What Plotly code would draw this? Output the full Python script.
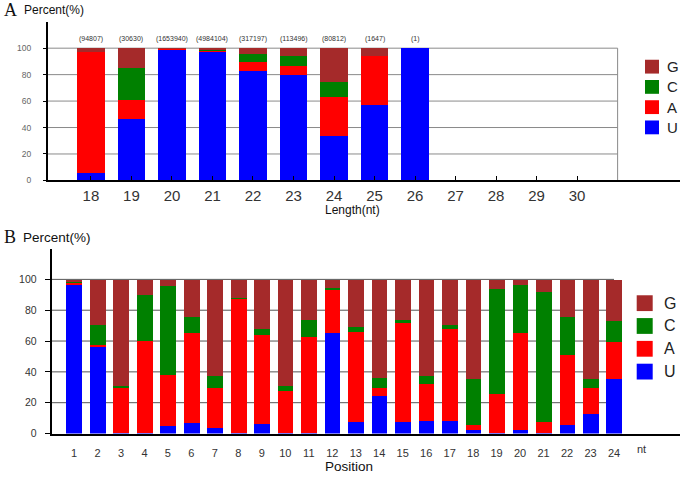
import plotly.graph_objects as go

# ---------------- Data: panel A (length distribution) ----------------
lengths = [18, 19, 20, 21, 22, 23, 24, 25, 26]
length_axis = [18, 19, 20, 21, 22, 23, 24, 25, 26, 27, 28, 29, 30]
counts_a = ["(94807)", "(30630)", "(1653940)", "(4984104)", "(317197)",
            "(113496)", "(80812)", "(1647)", "(1)"]
a_U = [5.5, 47.0, 99.0, 98.0, 83.0, 80.0, 34.0, 57.5, 100.0]
a_A = [92.0, 14.0, 0.8, 0.5, 7.0, 6.5, 29.0, 37.0, 0.0]
a_C = [0.0, 24.0, 0.0, 0.7, 6.0, 7.5, 11.5, 0.0, 0.0]
a_G = [2.5, 15.0, 0.2, 0.8, 4.0, 6.0, 25.5, 5.5, 0.0]

# ---------------- Data: panel B (position composition) ----------------
positions = list(range(1, 25))
b_U = [96.5, 56.3, 0.9, 0.4, 5.3, 6.8, 4.1, 0.6, 6.2, 0.4, 0.4, 65.5,
       7.7, 24.5, 7.5, 8.7, 8.1, 2.8, 0.4, 2.8, 0.9, 6.0, 12.8, 35.8]
b_A = [1.5, 1.7, 29.1, 60.1, 32.9, 58.4, 25.5, 87.2, 58.2, 27.3, 62.5, 28.3,
       58.2, 5.1, 64.8, 23.7, 60.3, 2.7, 25.4, 62.7, 7.0, 45.0, 17.1, 24.1]
b_C = [0.8, 12.6, 0.9, 29.7, 57.8, 10.5, 7.9, 0.5, 3.6, 3.2, 10.9, 0.9,
       3.2, 6.6, 1.7, 4.9, 2.4, 30.3, 68.0, 31.3, 84.4, 24.9, 5.9, 13.7]
b_G = [1.2, 29.4, 69.1, 9.8, 4.0, 24.3, 62.5, 11.7, 32.0, 69.1, 26.2, 5.3,
       30.9, 63.8, 26.0, 62.7, 29.2, 64.2, 6.2, 3.2, 7.7, 24.1, 64.2, 26.4]

bases = ["G", "C", "A", "U"]
colors = {"U": "#0000FF", "A": "#FF0000", "C": "#008000", "G": "#A52A2A"}
y_ticks = [0, 20, 40, 60, 80, 100]

W, H = 685, 481
FONT = "Liberation Sans, Arial, sans-serif"
SERIF = "Liberation Serif, Times New Roman, serif"


def px(x):
    return x / W


def py(y):
    return 1 - y / H


fig = go.Figure()
for name, vals in [("U", a_U), ("A", a_A), ("C", a_C), ("G", a_G)]:
    fig.add_trace(go.Bar(x=lengths, y=vals, name=name, width=0.675,
                         marker=dict(color=colors[name], line=dict(width=0)),
                         xaxis="x", yaxis="y", showlegend=False))
for name, vals in [("U", b_U), ("A", b_A), ("C", b_C), ("G", b_G)]:
    fig.add_trace(go.Bar(x=positions, y=vals, name=name, width=0.67,
                         marker=dict(color=colors[name], line=dict(width=0)),
                         xaxis="x2", yaxis="y2", showlegend=False))

xa_range = [16.94, 32.54]
xb_range = [0.05, 26.81]

shapes = []
# panel A grid + right border
for v in [20, 40, 60, 80, 100]:
    shapes.append(dict(type="line", xref="x", yref="y", x0=xa_range[0], x1=31,
                       y0=v, y1=v, line=dict(color="#8a8a8a", width=1), layer="below"))
shapes.append(dict(type="line", xref="x", yref="y", x0=31, x1=31, y0=0, y1=100,
                   line=dict(color="#8a8a8a", width=1), layer="below"))
# panel B grid
for v in [20, 40, 60, 80, 100]:
    shapes.append(dict(type="line", xref="x2", yref="y2", x0=xb_range[0], x1=24.0,
                       y0=v, y1=v, line=dict(color="#555555", width=1), layer="below"))

annotations = []
# counts above bars (panel A)
for L, c in zip(lengths, counts_a):
    annotations.append(dict(x=L, y=107, xref="x", yref="y", text=c, showarrow=False,
                             font=dict(family=FONT, size=7, color="#333333")))

# legends (drawn manually)
for i, b in enumerate(bases):
    cy = 67.5 + i * 20.5
    shapes.append(dict(type="rect", xref="paper", yref="paper",
                       x0=px(645), x1=px(659), y0=py(cy + 7), y1=py(cy - 7),
                       fillcolor=colors[b], line=dict(width=0)))
    annotations.append(dict(x=px(665), y=py(cy), xref="paper", yref="paper", text=b,
                             showarrow=False, xanchor="left", yanchor="middle",
                             font=dict(family=FONT, size=15, color="#222222")))
for i, b in enumerate(bases):
    cy = 307 + i * 23.1
    shapes.append(dict(type="rect", xref="paper", yref="paper",
                       x0=px(636.7), x1=px(652.7), y0=py(cy + 8), y1=py(cy - 8),
                       fillcolor=colors[b], line=dict(width=0)))
    annotations.append(dict(x=px(662), y=py(cy), xref="paper", yref="paper", text=b,
                             showarrow=False, xanchor="left", yanchor="middle",
                             font=dict(family=FONT, size=16, color="#222222")))

# titles / panel letters
annotations += [
    dict(x=px(2), y=py(10), xref="paper", yref="paper", text="A", showarrow=False,
         xanchor="left", yanchor="middle", font=dict(family=SERIF, size=18, color="#111")),
    dict(x=px(22), y=py(10.5), xref="paper", yref="paper", text="Percent(%)", showarrow=False,
         xanchor="left", yanchor="middle", font=dict(family=FONT, size=12, color="#111")),
    dict(x=px(352), y=py(213), xref="paper", yref="paper", text="Length(nt)", showarrow=False,
         xanchor="center", yanchor="middle", font=dict(family=FONT, size=12, color="#111")),
    dict(x=px(2), y=py(240), xref="paper", yref="paper", text="B", showarrow=False,
         xanchor="left", yanchor="middle", font=dict(family=SERIF, size=18, color="#111")),
    dict(x=px(21), y=py(240.5), xref="paper", yref="paper", text="Percent(%)", showarrow=False,
         xanchor="left", yanchor="middle", font=dict(family=FONT, size=13.5, color="#111")),
    dict(x=px(349), y=py(472), xref="paper", yref="paper", text="Position", showarrow=False,
         xanchor="center", yanchor="middle", font=dict(family=FONT, size=13.5, color="#111")),
    dict(x=px(641.7), y=py(455), xref="paper", yref="paper", text="nt", showarrow=False,
         xanchor="center", yanchor="middle", font=dict(family=FONT, size=11, color="#333")),
]

fig.update_layout(
    width=W, height=H, margin=dict(l=0, r=0, t=0, b=0),
    paper_bgcolor="white", plot_bgcolor="white", barmode="stack", bargap=0,
    font=dict(family=FONT),
    xaxis=dict(domain=[px(48), px(680)], range=xa_range, anchor="y",
               tickmode="array", tickvals=length_axis, ticktext=[str(v) for v in length_axis],
               ticks="inside", ticklen=4, tickcolor="black", tickwidth=1,
               showline=True, linecolor="black", linewidth=2, showgrid=False, zeroline=False,
               tickfont=dict(size=15, color="#333333"), ticklabelstandoff=1),
    yaxis=dict(domain=[py(182.7), py(22)], range=[0, 120], anchor="x",
               tickmode="array", tickvals=y_ticks,
               ticks="outside", ticklen=3, tickcolor="black",
               showline=True, linecolor="black", linewidth=2, showgrid=False, zeroline=False,
               tickfont=dict(size=8.5, color="#666666"), ticklabelstandoff=10),
    xaxis2=dict(domain=[px(51.7), px(680)], range=xb_range, anchor="y2",
                tickmode="array", tickvals=positions, ticktext=[str(v) for v in positions],
                ticks="", showline=True, linecolor="black", linewidth=2,
                showgrid=False, zeroline=False,
                tickfont=dict(size=11, color="#333333"), ticklabelstandoff=8),
    yaxis2=dict(domain=[py(439), py(251.7)], range=[0, 120], anchor="x2",
                tickmode="array", tickvals=y_ticks,
                ticks="outside", ticklen=5, tickcolor="black",
                showline=True, linecolor="black", linewidth=2, showgrid=False, zeroline=False,
                tickfont=dict(size=10.5, color="#333333"), ticklabelstandoff=6),
    shapes=shapes, annotations=annotations,
)

post = ("document.documentElement.style.margin='0';"
        "document.documentElement.style.overflow='hidden';"
        "document.body.style.margin='0';"
        "document.body.style.overflow='hidden';"
        "document.body.style.height='481px';")
fig.write_html("out.html", config={"displayModeBar": False}, post_script=post)
